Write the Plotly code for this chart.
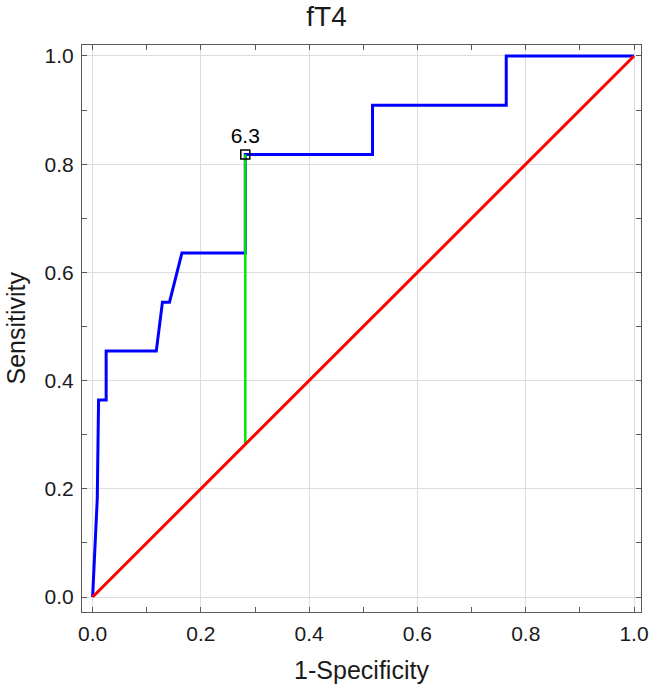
import plotly.graph_objects as go

# ROC curve data (1-Specificity, Sensitivity)
roc_fpr = [0.0, 0.0086, 0.011, 0.025, 0.025, 0.1176, 0.129, 0.142, 0.165, 0.282,
           0.282, 0.517, 0.517, 0.764, 0.764, 1.0]
roc_tpr = [0.0, 0.182, 0.364, 0.364, 0.4545, 0.4545, 0.545, 0.545, 0.636, 0.636,
           0.818, 0.818, 0.909, 0.909, 1.0, 1.0]

ref_x = [0.0, 1.0]
ref_y = [0.0, 1.0]

cut_fpr = 0.282
cut_tpr = 0.818
cut_label = "6.3"

tick_vals = [0.0, 0.2, 0.4, 0.6, 0.8, 1.0]
tick_text = ["0.0", "0.2", "0.4", "0.6", "0.8", "1.0"]

FONT = "Liberation Sans, Arial, sans-serif"
FRAME = "#5a5a5a"
TXT = "#1a1a1a"

fig = go.Figure()
fig.add_trace(go.Scatter(x=roc_fpr, y=roc_tpr, mode="lines",
                         line=dict(color="#0000ff", width=3), hoverinfo="skip"))
fig.add_trace(go.Scatter(x=[cut_fpr, cut_fpr], y=[cut_fpr, cut_tpr], mode="lines",
                         line=dict(color="#00e600", width=2.5), hoverinfo="skip"))
fig.add_trace(go.Scatter(x=ref_x, y=ref_y, mode="lines",
                         line=dict(color="#ff0000", width=3), hoverinfo="skip"))
fig.add_trace(go.Scatter(x=[cut_fpr], y=[cut_tpr], mode="markers+text",
                         marker=dict(symbol="square-open", size=9, color="black",
                                     line=dict(width=1.5, color="black")),
                         text=[cut_label], textposition="top center",
                         textfont=dict(family=FONT, size=21, color="black"),
                         hoverinfo="skip"))

axis_common = dict(
    showline=True, linecolor=FRAME, linewidth=1.2, mirror="ticks",
    showgrid=True, gridcolor="#dcdcdc", gridwidth=1,
    zeroline=False, automargin=False,
    ticks="inside", ticklen=5, tickcolor=FRAME, tickwidth=1,
    tickvals=tick_vals, ticktext=tick_text,
    tickfont=dict(family=FONT, size=21, color=TXT),
    minor=dict(dtick=0.1, ticks="inside", ticklen=5, tickcolor=FRAME, showgrid=False),
)

fig.update_layout(
    width=653, height=688,
    margin=dict(l=82, r=12, t=45, b=76),
    paper_bgcolor="white", plot_bgcolor="white",
    showlegend=False,
    title=dict(text="fT4", x=0.5, xanchor="center", xref="container",
               y=1 - 16 / 688, yref="container", yanchor="middle",
               font=dict(family=FONT, size=28, color=TXT)),
    xaxis=dict(range=[-0.0196, 1.0129], ticklabelstandoff=3, **axis_common,
               title=dict(text="1-Specificity", standoff=17,
                          font=dict(family=FONT, size=25, color=TXT))),
    yaxis=dict(range=[-0.0277, 1.0203], ticklabelstandoff=3, **axis_common),
    annotations=[dict(text="Sensitivity", textangle=-90, showarrow=False,
                      xref="paper", x=0, xanchor="center", xshift=-67,
                      yref="paper", y=0.5, yanchor="middle",
                      font=dict(family=FONT, size=25, color=TXT))],
)

fig.write_html("out.html", config={"displayModeBar": False},
               post_script="document.body.style.margin='0';")
